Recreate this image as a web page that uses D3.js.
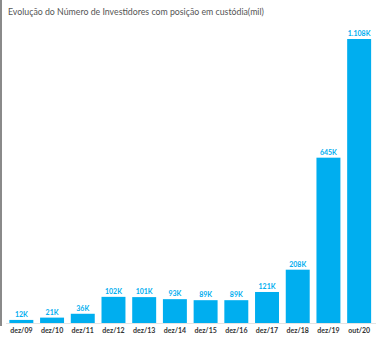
<!DOCTYPE html>
<html>
<head>
<meta charset="utf-8">
<script src="https://cdn.jsdelivr.net/npm/d3@7"></script>
<style>
  body { margin: 0; background: #fff; }
  svg { display: block; }
</style>
</head>
<body>
<script>
const width = 385
const height = 340
const barColor = "#00AEEF"

const categories = ["dez/09", "dez/10", "dez/11", "dez/12", "dez/13", "dez/14", "dez/15", "dez/16", "dez/17", "dez/18", "dez/19", "out/20"]
const values = [12, 21, 36, 102, 101, 93, 89, 89, 121, 208, 645, 1108]
const valueLabels = ["12K", "21K", "36K", "102K", "101K", "93K", "89K", "89K", "121K", "208K", "645K", "1.108K"]

const data = categories.map((c, i) => ({cat: c, val: values[i], label: valueLabels[i]}))

const svg = d3.select("body")
    .append("svg")
    .attr("width", width)
    .attr("height", height)

// left frame edge
svg.append("rect")
    .attr("x", 0)
    .attr("y", 0)
    .attr("width", 2)
    .attr("height", 326)
    .attr("fill", "#8a8a8a")

let title = svg.append("text")
    .attr("x", 8)
    .attr("y", 15)
    .attr("font-family", "Lato, 'Noto Sans', sans-serif")
    .attr("font-size", "9px")
    .attr("fill", "#555")
    .text("Evolução do Número de Investidores com posição em custódia(mil)")

// squeeze title to the reference width
let tw = title.node().getComputedTextLength()
title.attr("font-size", (9 * 256 / tw) + "px")

const baseY = 323

let x = d3.scaleBand()
    .domain(categories)
    .range([6, 374.5])
    .paddingInner(0.22)
    .paddingOuter(0.11)

let y = d3.scaleLinear()
    .domain([0, 1108])
    .range([baseY, 39])

// baseline
svg.append("line")
    .attr("x1", 6)
    .attr("x2", 376)
    .attr("y1", baseY + 0.5)
    .attr("y2", baseY + 0.5)
    .attr("stroke", "#e3e3e3")
    .attr("stroke-width", 1)

svg.selectAll(".bar")
    .data(data)
    .enter()
        .append("rect")
        .attr("class", "bar")
        .attr("x", d => x(d.cat))
        .attr("y", d => y(d.val))
        .attr("width", x.bandwidth())
        .attr("height", d => baseY - y(d.val))
        .attr("fill", barColor)

svg.selectAll(".vlabel")
    .data(data)
    .enter()
        .append("text")
        .attr("class", "vlabel")
        .attr("x", d => x(d.cat) + x.bandwidth()/2)
        .attr("y", d => y(d.val) - 3)
        .attr("text-anchor", "middle")
        .attr("font-family", "Lato, 'Noto Sans', sans-serif")
        .attr("font-size", "7px")
        .attr("font-weight", "bold")
        .attr("fill", barColor)
        .text(d => d.label)

svg.append("g")
    .attr("transform", `translate(0,${baseY})`)
    .call(d3.axisBottom(x).tickSize(0).tickPadding(5))
    .call(g => g.select(".domain").remove())
    .call(g => g.selectAll("text")
        .attr("font-family", "Lato, 'Noto Sans', sans-serif")
        .attr("font-size", "7px")
        .attr("font-weight", "bold")
        .attr("fill", "#333"))
</script>
</body>
</html>
